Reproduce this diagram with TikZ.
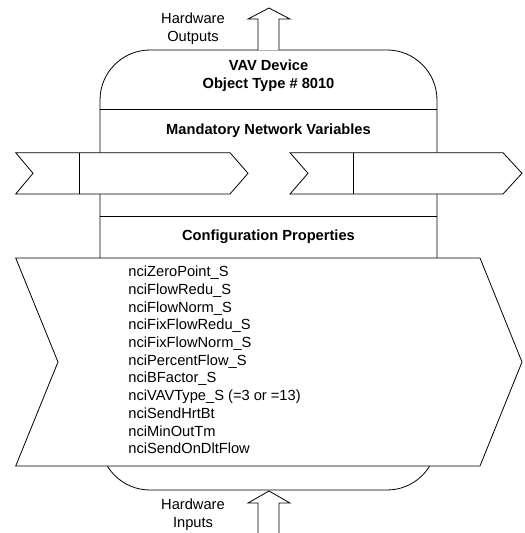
\documentclass[tikz,border=0pt]{standalone}
\usepackage{fontspec}
\setmainfont{Liberation Sans}
\usetikzlibrary{positioning}

\begin{document}
\begin{tikzpicture}[x=0.75pt, y=-0.75pt, line width=0.6pt]
	\tikzstyle{outline} = [draw=black, fill=white, line join=miter]
	\tikzstyle{title} = [font=\fontsize{11}{13.3}\selectfont\bfseries, align=center, inner sep=0]
	\tikzstyle{hwlabel} = [font=\fontsize{11}{13.3}\selectfont, align=center, inner sep=0]

	\useasboundingbox (0, 0) rectangle (525, 533);

	% device body
	\draw[outline] (100, 100) arc (180:270:50) -- (387, 50) arc (270:360:50)
		-- (437, 440) arc (0:90:50) -- (150, 490) arc (90:180:50) -- cycle;
	\draw (100, 109) -- (437, 109);
	\draw (100, 216) -- (437, 216);

	\node[title] at (268.5, 76)		(dev)	{VAV Device\\Object Type \# 8010};
	\node[title] at (268.5, 131)	(mnv)	{Mandatory Network Variables};
	\node[title] at (268.5, 237)	(cfg)	{Configuration Properties};

	% network variable arrows
	\draw[outline] (15.7, 152.7) -- (230, 152.7) -- (248, 173.3) -- (230, 194)
		-- (15.7, 194) -- (33, 173.3) -- cycle;
	\draw (79, 152.7) -- (79, 194);
	\draw[outline] (290, 152.7) -- (503, 152.7) -- (522, 173.3) -- (503, 194)
		-- (290, 194) -- (308, 173.3) -- cycle;
	\draw (353, 152.7) -- (353, 194);

	% configuration properties arrow
	\draw[outline] (15.7, 258) -- (480, 258) -- (522, 362) -- (480, 466)
		-- (15.7, 466) -- (58, 362) -- cycle;
	\node[hwlabel, align=left, anchor=north west] at (128, 265.5) (nci) {%
		nciZeroPoint\_S\\
		nciFlowRedu\_S\\
		nciFlowNorm\_S\\
		nciFixFlowRedu\_S\\
		nciFixFlowNorm\_S\\
		nciPercentFlow\_S\\
		nciBFactor\_S\\
		nciVAVType\_S (=3 or =13)\\
		nciSendHrtBt\\
		nciMinOutTm\\
		nciSendOnDltFlow};

	% hardware arrows
	\draw[outline] (258, 50) -- (258, 19) -- (248, 19) -- (269, 8) -- (290, 19)
		-- (279, 19) -- (279, 50);
	\draw[outline] (258, 533) -- (258, 503) -- (248, 503) -- (269, 491) -- (290, 503)
		-- (279, 503) -- (279, 533);

	\node[hwlabel] at (193, 29)		(hwo)	{Hardware\\Outputs};
	\node[hwlabel] at (193, 515)	(hwi)	{Hardware\\Inputs};
\end{tikzpicture}
\end{document}
